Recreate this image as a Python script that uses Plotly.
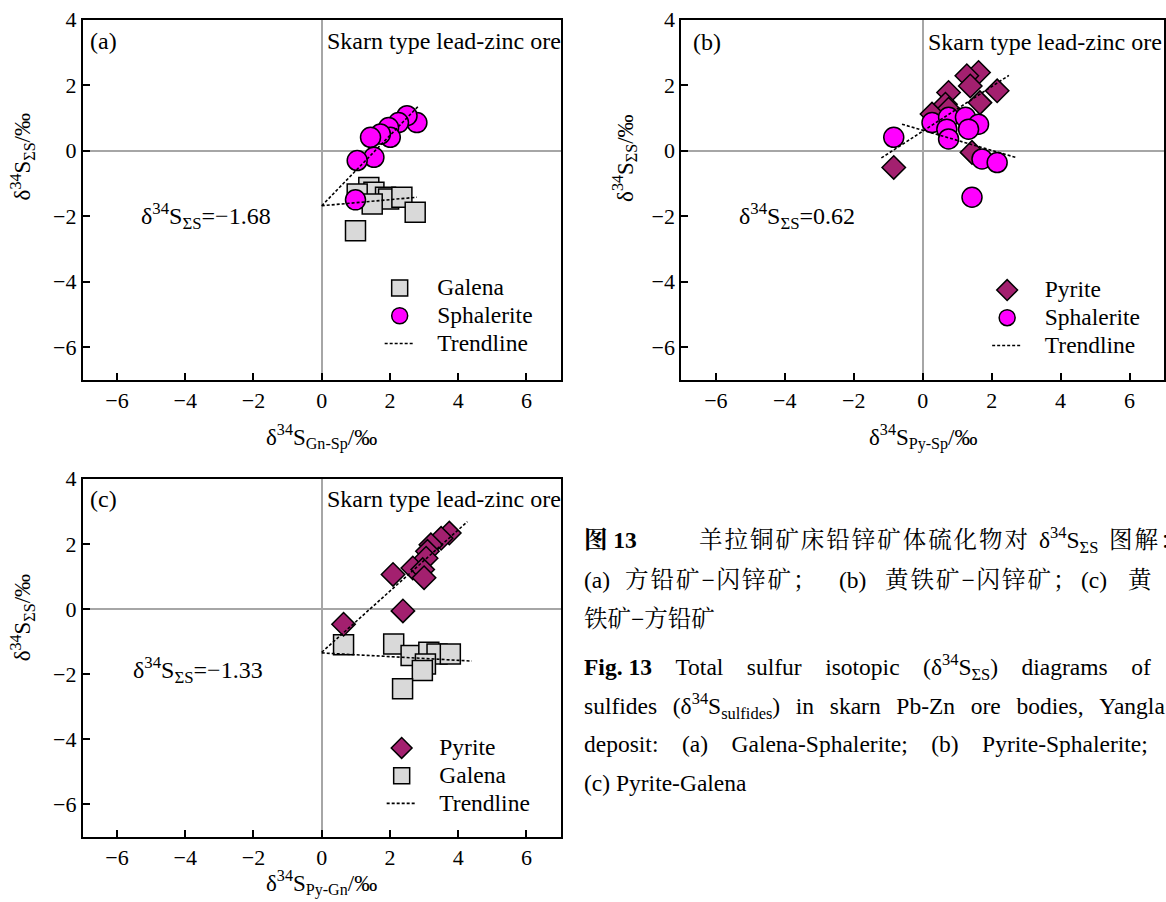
import plotly.graph_objects as go

# ---------------- data ----------------
# Panel (a): Galena-Sphalerite
a_galena_x = [1.38, 1.53, 1.04, 1.87, 1.96, 2.35, 1.48, 2.74, 0.99]
a_galena_y = [-1.12, -1.27, -1.32, -1.42, -1.47, -1.42, -1.63, -1.88, -2.44]
a_sph_x = [2.79, 2.50, 2.25, 1.96, 2.01, 1.72, 1.43, 1.53, 1.04, 0.99]
a_sph_y = [0.86, 1.07, 0.86, 0.71, 0.41, 0.51, 0.41, -0.20, -0.30, -1.50]
a_trend_x = [0, 2.84, None, 0, 2.79]
a_trend_y = [-1.68, 1.37, None, -1.68, -1.42]

# Panel (b): Pyrite-Sphalerite
b_pyr_x = [1.62, 1.28, 1.38, 2.16, 0.75, 1.66, 0.66, 0.75, 0.27, 1.43, -0.84]
b_pyr_y = [2.39, 2.29, 1.98, 1.83, 1.78, 1.47, 1.42, 1.27, 1.12, -0.05, -0.51]
b_sph_x = [-0.84, 0.27, 0.75, 1.24, 1.62, 1.33, 0.70, 0.75, 1.72, 2.16, 1.43]
b_sph_y = [0.41, 0.86, 1.02, 1.02, 0.81, 0.66, 0.66, 0.36, -0.25, -0.36, -1.42]
b_trend_x = [-1.2, 2.5, None, -0.6, 2.69]
b_trend_y = [-0.22, 2.30, None, 0.81, -0.20]

# Panel (c): Pyrite-Galena
c_pyr_x = [3.74, 3.50, 3.20, 3.10, 3.06, 2.67, 2.96, 3.00, 2.09, 2.38, 0.64]
c_pyr_y = [2.33, 2.17, 1.97, 1.77, 1.56, 1.26, 1.21, 0.96, 1.06, -0.06, -0.47]
c_galena_x = [0.64, 2.11, 2.62, 3.14, 3.38, 3.77, 3.04, 2.95, 2.37]
c_galena_y = [-1.10, -1.08, -1.43, -1.33, -1.38, -1.38, -1.69, -1.89, -2.45]
c_trend_x = [0, 4.27, None, 0, 4.4]
c_trend_y = [-1.33, 2.68, None, -1.35, -1.60]

total_s = {"a": "−1.68", "b": "0.62", "c": "−1.33"}
x_titles = {"a": "Gn-Sp", "b": "Py-Sp", "c": "Py-Gn"}
tick_vals_x = [-6, -4, -2, 0, 2, 4, 6]
tick_vals_y = [-6, -4, -2, 0, 2, 4]

# ---------------- styles ----------------
SERIF = "Liberation Serif, Times New Roman, serif"
CAP_FONT = "Liberation Serif, Noto Serif CJK SC, Noto Sans CJK SC, serif"
GALENA = "#D9D9D9"
SPH = "#FF00FF"
PYR = "#A3206F"
W, H = 1166, 902

fig = go.Figure()

def mk(symbol, color, size):
    return dict(symbol=symbol, color=color, size=size, line=dict(color="black", width=1.5))

def lg(name):
    return '<span style="font-size:23.5px">\u00a0\u00a0\u00a0' + name + "</span>"

trend_line = dict(color="black", width=1.6, dash="3px,2px")

# panel a
fig.add_trace(go.Scatter(x=a_galena_x, y=a_galena_y, mode="markers", name=lg("Galena"),
                         marker=mk("square", GALENA, 20), xaxis="x", yaxis="y", legend="legend"))
fig.add_trace(go.Scatter(x=a_sph_x, y=a_sph_y, mode="markers", name=lg("Sphalerite"),
                         marker=mk("circle", SPH, 20), xaxis="x", yaxis="y", legend="legend"))
fig.add_trace(go.Scatter(x=a_trend_x, y=a_trend_y, mode="lines", name=lg("Trendline"),
                         line=trend_line, xaxis="x", yaxis="y", legend="legend"))
# panel b
fig.add_trace(go.Scatter(x=b_pyr_x, y=b_pyr_y, mode="markers", name=lg("Pyrite"),
                         marker=mk("diamond", PYR, 18), xaxis="x2", yaxis="y2", legend="legend2"))
fig.add_trace(go.Scatter(x=b_sph_x, y=b_sph_y, mode="markers", name=lg("Sphalerite"),
                         marker=mk("circle", SPH, 20), xaxis="x2", yaxis="y2", legend="legend2"))
fig.add_trace(go.Scatter(x=b_trend_x, y=b_trend_y, mode="lines", name=lg("Trendline"),
                         line=trend_line, xaxis="x2", yaxis="y2", legend="legend2"))
# panel c
fig.add_trace(go.Scatter(x=c_galena_x, y=c_galena_y, mode="markers", name=lg("Galena"),
                         marker=mk("square", GALENA, 20), xaxis="x3", yaxis="y3",
                         legend="legend3", legendrank=2))
fig.add_trace(go.Scatter(x=c_pyr_x, y=c_pyr_y, mode="markers", name=lg("Pyrite"),
                         marker=mk("diamond", PYR, 18), xaxis="x3", yaxis="y3",
                         legend="legend3", legendrank=1))
fig.add_trace(go.Scatter(x=c_trend_x, y=c_trend_y, mode="lines", name=lg("Trendline"),
                         line=trend_line, xaxis="x3", yaxis="y3", legend="legend3", legendrank=3))

def px_x(p):
    return p / W

def px_y(p):
    # convert a target pixel row into a paper fraction
    return 1 - ((p - 11.2) / 0.989) / H

ax_common = dict(showline=True, linecolor="black", linewidth=2, mirror=True,
                 ticks="inside", ticklen=7, tickwidth=1.5, tickcolor="black",
                 showgrid=False, zeroline=True, zerolinecolor="#A6A6A6", zerolinewidth=1.5,
                 tickfont=dict(family=SERIF, size=22, color="black"))

dom_a_x = [px_x(83), px_x(561)]
dom_b_x = [px_x(682), px_x(1165)]
dom_top_y = [px_y(380), px_y(19)]
dom_bot_y = [px_y(838), px_y(479)]

layout_axes = {}
for i, (dx, dy) in enumerate([(dom_a_x, dom_top_y), (dom_b_x, dom_top_y), (dom_a_x, dom_bot_y)]):
    sfx = "" if i == 0 else str(i + 1)
    layout_axes["xaxis" + sfx] = dict(ax_common, domain=dx, range=[-7, 7], tickvals=tick_vals_x,
                                      anchor="y" + sfx)
    layout_axes["yaxis" + sfx] = dict(ax_common, domain=dy, range=[-7, 4], tickvals=tick_vals_y,
                                      anchor="x" + sfx)

fig.update_layout(**layout_axes)

leg_common = dict(font=dict(family=SERIF, size=19, color="black"), bgcolor="rgba(0,0,0,0)",
                  xanchor="left", yanchor="top", tracegroupgap=0, itemsizing="trace")
fig.update_layout(
    width=W, height=H, margin=dict(l=0, r=0, t=0, b=0),
    paper_bgcolor="white", plot_bgcolor="white", showlegend=True,
    legend=dict(leg_common, x=px_x(380), y=px_y(269)),
    legend2=dict(leg_common, x=px_x(988), y=px_y(271)),
    legend3=dict(leg_common, x=px_x(382), y=px_y(730)),
)

ann = []
def txt(text, x, y, xref="paper", yref="paper", size=22, xanchor="left", yanchor="middle",
        angle=0, family=SERIF):
    ann.append(dict(text=text, x=x, y=y, xref=xref, yref=yref, showarrow=False,
                    xanchor=xanchor, yanchor=yanchor, textangle=angle,
                    font=dict(family=family, size=size, color="black")))

delta = "δ<sup>34</sup>S<sub>ΣS</sub>"
# panel letters and ore type
for lab, xl, xs, yc in [("(a)", 88, 325, 40), ("(b)", 692, 927, 41), ("(c)", 88, 325, 499)]:
    txt(lab, px_x(xl), px_y(yc), size=24)
    txt("Skarn type lead-zinc ore", px_x(xs), px_y(yc), size=24)

# total sulfur labels (data coords)
txt(delta + "=" + total_s["a"], -3.38, -1.98, xref="x", yref="y", xanchor="center", size=24)
txt(delta + "=" + total_s["b"], -3.65, -1.98, xref="x2", yref="y2", xanchor="center", size=24)
txt(delta + "=" + total_s["c"], -3.62, -1.89, xref="x3", yref="y3", xanchor="center", size=24)

# axis titles
txt("δ<sup>34</sup>S<sub>" + x_titles["a"] + "</sub>/‰", px_x(322), px_y(437), xanchor="center", size=23)
txt("δ<sup>34</sup>S<sub>" + x_titles["b"] + "</sub>/‰", px_x(924), px_y(437), xanchor="center", size=23)
txt("δ<sup>34</sup>S<sub>" + x_titles["c"] + "</sub>/‰", px_x(322), px_y(884), xanchor="center", size=23)
txt(delta + "/‰", px_x(22), px_y(156), xanchor="center", angle=-90, size=23)
txt(delta + "/‰", px_x(625), px_y(158), xanchor="center", angle=-90, size=23)
txt(delta + "/‰", px_x(22), px_y(618), xanchor="center", angle=-90, size=23)

# caption (justified lines are placed in segments; hair spaces emulate CJK justification)
def spread(s):
    return "\u200a".join(list(s))

def gap(n, extra=""):
    return " " + "\u00a0" * n + extra

cap_segments = [
    ("<b>图 13</b>", 582, 540),
    (spread("羊拉铜矿床铅锌矿体硫化物对"), 698, 540),
    (delta, 1038, 540),
    (spread("图解："), 1108, 540),
    ("(a)", 582, 581),
    (spread("方铅矿−闪锌矿；"), 624, 581),
    ("(b)", 838, 581),
    (spread("黄铁矿−闪锌矿；"), 884, 581),
    ("(c)", 1080, 581),
    ("黄", 1127, 581),
    ("铁矿−方铅矿", 582, 620),
    ("<b>Fig. 13</b>\u2003" + gap(3).join(["Total", "sulfur", "isotopic", "(" + delta + ")",
                                            "diagrams", "of"]), 582, 668),
    (gap(1, "\u2006").join(["sulfides", "(δ<sup>34</sup>S<sub>sulfides</sub>)", "in", "skarn",
                            "Pb-Zn", "ore", "bodies,", "Yangla"]), 582, 707),
    (gap(3).join(["deposit:", "(a)", "Galena-Sphalerite;", "(b)", "Pyrite-Sphalerite;"]), 582, 745),
    ("(c) Pyrite-Galena", 582, 784),
]
for t, xl, yc in cap_segments:
    txt(t, px_x(xl), px_y(yc), size=23.5, family=CAP_FONT)

fig.update_layout(annotations=ann)
fig.write_html("out.html", config={"displayModeBar": False},
               post_script="document.body.style.margin='0px';")
